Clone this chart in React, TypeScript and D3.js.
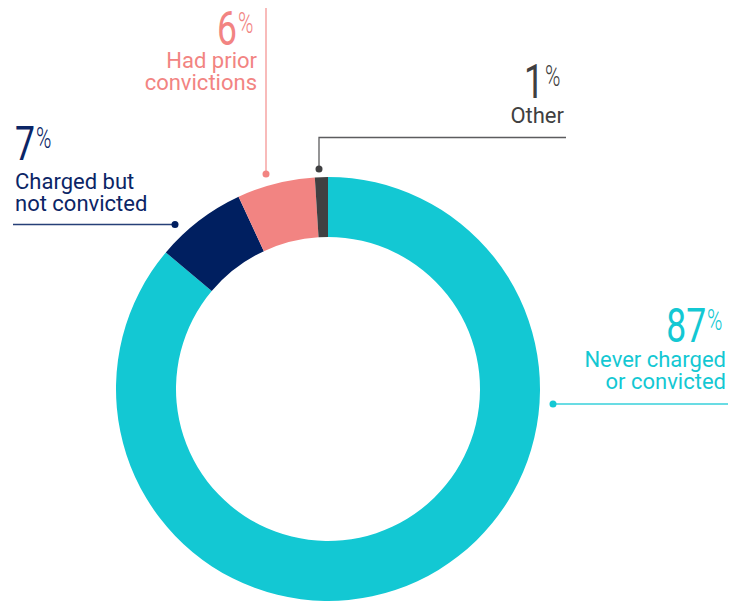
import * as d3 from "d3";
import React from "react";

const categories = [
  "Never charged or convicted",
  "Charged but not convicted",
  "Had prior convictions",
  "Other",
];
const values = [87, 7, 6, 1];
const colors = ["#13C8D3", "#001F60", "#F28482", "#404042"];
const textColors = ["#13C8D3", "#0B2566", "#F28482", "#3F3F41"];
const labelLines = [
  ["Never charged", "or convicted"],
  ["Charged but", "not convicted"],
  ["Had prior", "convictions"],
  ["Other"],
];

const width = 729;
const height = 601;
const cx = 328;
const cy = 389;
const outerR = 212;
const innerR = 152;

// annotation layout (anchor = where the number block sits)
const annos = [
  { x: 726, numY: 342, anchor: "end", lineY: 367, path: "M553,404H728", dot: [553, 404] },
  { x: 15, numY: 160, anchor: "start", lineY: 189, path: "M13,224.5H175", dot: [175, 224.5] },
  { x: 257, numY: 45, anchor: "end", lineY: 68, path: "M266,8V174", dot: [266, 174] },
  { x: 564, numY: 98, anchor: "end", lineY: 123, path: "M566,137.5H319V169", dot: [319, 169] },
];

const font = "Roboto, 'Noto Sans', sans-serif";

function Label({ i }: { i: number }) {
  const a = annos[i];
  const c = textColors[i];
  const num = String(values[i]);
  const numW = num.length * 48 * 0.56 * 0.74;
  const pctW = 20;
  const startX = a.anchor === "end" ? a.x - pctW - numW : a.x;
  return (
    <g fill={c} fontFamily={font}>
      <text
        transform={`translate(${startX},${a.numY}) scale(0.74,1)`}
        fontSize={48}
      >
        {num}
      </text>
      <text
        transform={`translate(${startX + numW + 1},${a.numY - 12}) scale(0.72,1)`}
        fontSize={29}
        fontWeight={300}
      >
        %
      </text>
      {labelLines[i].map((t, k) => (
        <text
          key={k}
          x={a.x}
          y={a.lineY + k * 22}
          fontSize={22}
          textAnchor={a.anchor}
        >
          {t}
        </text>
      ))}
    </g>
  );
}

export default function App() {
  const pie = d3
    .pie<number>()
    .sort(null)
    .value((d) => d)
    .startAngle(0)
    .endAngle(2 * Math.PI);
  const arcs = pie(values);
  const arc = d3.arc<d3.PieArcDatum<number>>().innerRadius(innerR).outerRadius(outerR);

  return (
    <svg
      width={width}
      height={height}
      style={{ position: "absolute", left: 0, top: 0, background: "#fff" }}
    >
      <g transform={`translate(${cx},${cy})`}>
        {arcs.map((d, i) => (
          <path key={categories[i]} d={arc(d) ?? ""} fill={colors[i]} />
        ))}
      </g>
      {annos.map((a, i) => (
        <g key={"l" + i}>
          <path d={a.path} fill="none" stroke={colors[i]} strokeOpacity={0.85} strokeWidth={1.3} />
          <circle cx={a.dot[0]} cy={a.dot[1]} r={3.5} fill={colors[i]} />
        </g>
      ))}
      {annos.map((_, i) => (
        <Label key={"t" + i} i={i} />
      ))}
    </svg>
  );
}
